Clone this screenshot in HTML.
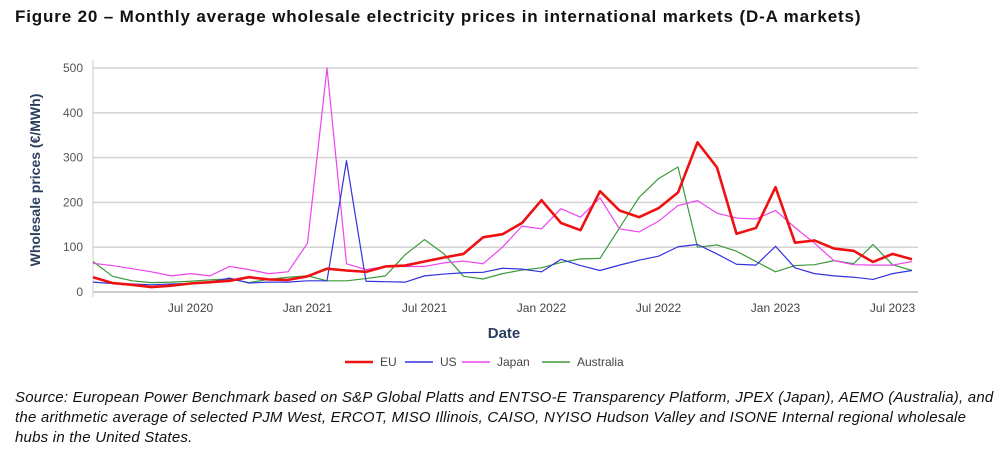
<!DOCTYPE html>
<html><head><meta charset="utf-8"><style>
body{margin:0;background:#fff;width:1000px;height:465px;overflow:hidden;font-family:"Liberation Sans",sans-serif;}
#title{position:absolute;left:15px;top:7px;font-size:17px;font-weight:bold;color:#111;letter-spacing:0.85px}
#source{position:absolute;left:15px;top:388px;width:985px;font-size:15px;font-style:italic;color:#111;line-height:20px;white-space:nowrap;letter-spacing:0.22px}
svg{position:absolute;left:0;top:0}
</style></head><body>
<div id="title">Figure 20 – Monthly average wholesale electricity prices in international markets (D-A markets)</div>
<svg id="chart" width="1000" height="385"></svg>
<div id="source">Source: European Power Benchmark based on S&amp;P Global Platts and ENTSO-E Transparency Platform, JPEX (Japan), AEMO (Australia), and<br>the arithmetic average of selected PJM West, ERCOT, MISO Illinois, CAISO, NYISO Hudson Valley and ISONE Internal regional wholesale<br>hubs in the United States.</div>
<script>
const euValues=[33,20,16,11,14,19,22,25,33,28,27,35,52,48,45,57,59,68,77,85,122,129,154,205,154,138,225,182,167,187,222,334,278,130,143,234,110,115,97,92,67,85,73];
const usValues=[22,19,18,16,18,19,22,31,20,22,22,25,25,293,24,23,22,36,40,43,44,53,51,45,73,59,48,60,71,80,101,106,85,62,60,102,54,41,36,33,28,41,48];
const japanValues=[64,59,52,45,36,41,36,57,50,41,45,109,500,63,50,57,57,57,65,69,63,100,147,141,186,167,210,141,134,158,193,204,176,165,163,182,144,109,70,61,60,60,68];
const australiaValues=[68,35,25,21,22,24,27,29,21,28,33,36,25,25,30,36,83,117,85,35,29,41,49,54,66,74,75,143,211,253,279,100,105,91,68,45,59,61,70,63,106,61,48];
const yTicks=[0,100,200,300,400,500];
const xTickLabels=["Jul 2020","Jan 2021","Jul 2021","Jan 2022","Jul 2022","Jan 2023","Jul 2023"];
const xTickIndex=[5,11,17,23,29,35,41];
const legendNames=["EU","US","Japan","Australia"];

const NS="http://www.w3.org/2000/svg";
const svg=document.getElementById('chart');
const X0=93,DX=19.5,Y0=292,YS=0.448,XR=918;
const xs=i=>X0+i*DX;
const ys=v=>Y0-v*YS;
function mk(t,a){const e=document.createElementNS(NS,t);for(const k in a)e.setAttribute(k,a[k]);svg.appendChild(e);return e;}
yTicks.forEach(v=>{
  const g=mk('line',{x1:X0,x2:XR,y1:ys(v),y2:ys(v),stroke:v===0?'#bbb':'#d4d4d4','stroke-width':1.5});
  
  
  const t=mk('text',{x:X0-10,y:ys(v)+4,'text-anchor':'end','font-size':12,fill:'#555'});
  t.textContent=v;
  
  
});
const ax=mk('line',{x1:X0,x2:X0,y1:60,y2:Y0+5,stroke:'#ccc','stroke-width':1});


xTickLabels.forEach((l,k)=>{
  const t=mk('text',{x:xs(xTickIndex[k]),y:312,'text-anchor':'middle','font-size':12,fill:'#444'});
  t.textContent=l;
  
  
});
const yt=mk('text',{x:0,y:0,transform:'translate(40,180) rotate(-90)','text-anchor':'middle','font-size':14,'font-weight':'bold',fill:'#2a3f5f'});
yt.textContent='Wholesale prices (€/MWh)';


const xt=mk('text',{x:504,y:338,'text-anchor':'middle','font-size':15,'font-weight':'bold',fill:'#2a3f5f'});
xt.textContent='Date';


const series=[[australiaValues,'#3a9a3a',1.2,'australia-line'],[japanValues,'#ee44ee',1.2,'japan-line'],[usValues,'#3333dd',1.2,'us-line'],[euValues,'#ee1111',2.6,'eu-line']];
series.forEach(s=>{
  const p=mk('polyline',{points:s[0].map((v,i)=>xs(i)+','+ys(v)).join(' '),fill:'none',stroke:s[1],'stroke-width':s[2],'stroke-linejoin':'round'});
  
  
});
const legX=[345,405,462,542],legC=['#ee1111','#3333dd','#ee44ee','#3a9a3a'];
legendNames.forEach((n,k)=>{
  const l=mk('line',{x1:legX[k],x2:legX[k]+28,y1:362,y2:362,stroke:legC[k],'stroke-width':k===0?2.6:1.5});
  
  
  const t=mk('text',{x:legX[k]+35,y:366,'font-size':12,fill:'#444'});
  t.textContent=n;
  
  
});
</script>
</body></html>
